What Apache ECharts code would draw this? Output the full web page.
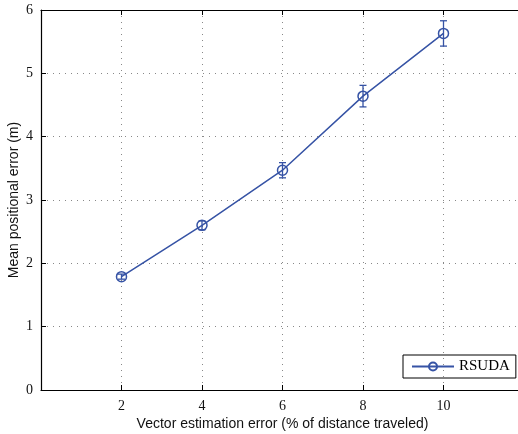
<!DOCTYPE html>
<html>
<head>
<meta charset="utf-8">
<script src="https://cdn.jsdelivr.net/npm/echarts@6/dist/echarts.min.js"></script>
<style>
html, body { margin: 0; padding: 0; background: #fff; }
#chart { width: 518px; height: 434px; }
</style>
</head>
<body>
<div id="chart"></div>
<script>
// data
var xVals = [2, 4, 6, 8, 10];
var meanErr = [1.79, 2.6, 3.47, 4.64, 5.63];
var errBar = [0.04, 0.07, 0.12, 0.17, 0.2];
var xTicks = [2, 4, 6, 8, 10];

var lineColor = '#3653a5';

var lineData = [];
var barData = [];
for (var i = 0; i < xVals.length; i++) {
	lineData.push([xVals[i], meanErr[i]]);
	barData.push([xVals[i], meanErr[i] - errBar[i], meanErr[i] + errBar[i]]);
}

function renderErr(params, api) {
	var x = api.value(0);
	var lo = api.coord([x, api.value(1)]);
	var hi = api.coord([x, api.value(2)]);
	var cap = 3.5;
	var st = { stroke: lineColor, lineWidth: 1.3, fill: null };
	return {
		type: 'group',
		children: [
			{ type: 'line', shape: { x1: lo[0], y1: lo[1], x2: hi[0], y2: hi[1] }, style: st },
			{ type: 'line', shape: { x1: lo[0] - cap, y1: lo[1], x2: lo[0] + cap, y2: lo[1] }, style: st },
			{ type: 'line', shape: { x1: hi[0] - cap, y1: hi[1], x2: hi[0] + cap, y2: hi[1] }, style: st }
		]
	};
}

var chart = echarts.init(document.getElementById('chart'));
chart.setOption({
	animation: false,
	grid: {
		left: 41, right: -6, top: 10, bottom: 44,
		outerBoundsMode: 'none',
		containLabel: false,
		show: false
	},
	legend: {
		left: 403, top: 355,
		data: ['RSUDA'],
		borderColor: '#000', borderWidth: 1,
		padding: [4, 6, 4, 8],
		itemWidth: 42, itemHeight: 10,
		textStyle: { fontFamily: 'Liberation Serif', fontSize: 15, color: '#000' }
	},
	xAxis: [
		{
			type: 'value', min: 0, max: 12, interval: 2,
			name: 'Vector estimation error (% of distance traveled)',
			nameLocation: 'middle', nameGap: 27,
			nameMoveOverlap: false,
			nameTextStyle: { fontFamily: 'Liberation Sans', fontSize: 14, color: '#111' },
			axisLine: { show: true, lineStyle: { color: '#000', width: 1.2 } },
			axisTick: { show: true, inside: true, length: 5, lineStyle: { color: '#000' } },
			axisLabel: {
				fontFamily: 'Liberation Serif', fontSize: 14, color: '#111', margin: 9,
				formatter: function (v) { return xTicks.indexOf(v) >= 0 ? String(v) : ''; }
			},
			splitLine: { show: true, lineStyle: { color: '#888', type: [1, 5], width: 1 } }
		},
		{
			type: 'value', min: 0, max: 12, interval: 2, position: 'top',
			axisLine: { show: true, lineStyle: { color: '#000', width: 1.2 } },
			axisTick: { show: true, inside: true, length: 5, lineStyle: { color: '#000' } },
			axisLabel: { show: false },
			splitLine: { show: false }
		}
	],
	yAxis: {
		type: 'value', min: 0, max: 6, interval: 1,
		name: 'Mean positional error (m)',
		nameLocation: 'middle', nameGap: 20,
		nameMoveOverlap: false,
		nameTextStyle: { fontFamily: 'Liberation Sans', fontSize: 14, color: '#111' },
		axisLine: { show: true, lineStyle: { color: '#000', width: 1.2 } },
		axisTick: { show: true, inside: true, length: 5, lineStyle: { color: '#000' } },
		axisLabel: { fontFamily: 'Liberation Serif', fontSize: 14, color: '#111', margin: 8 },
		splitLine: { show: true, lineStyle: { color: '#888', type: [1, 5], width: 1 } }
	},
	series: [
		{
			name: 'RSUDA',
			type: 'line',
			data: lineData,
			symbol: 'circle',
			symbolSize: 10,
			itemStyle: { color: 'rgba(255,255,255,0)', borderColor: lineColor, borderWidth: 1.5 },
			lineStyle: { color: lineColor, width: 1.5 },
			z: 3
		},
		{
			type: 'custom',
			renderItem: renderErr,
			data: barData,
			encode: { x: 0, y: [1, 2] },
			z: 4
		}
	]
});
</script>
</body>
</html>
